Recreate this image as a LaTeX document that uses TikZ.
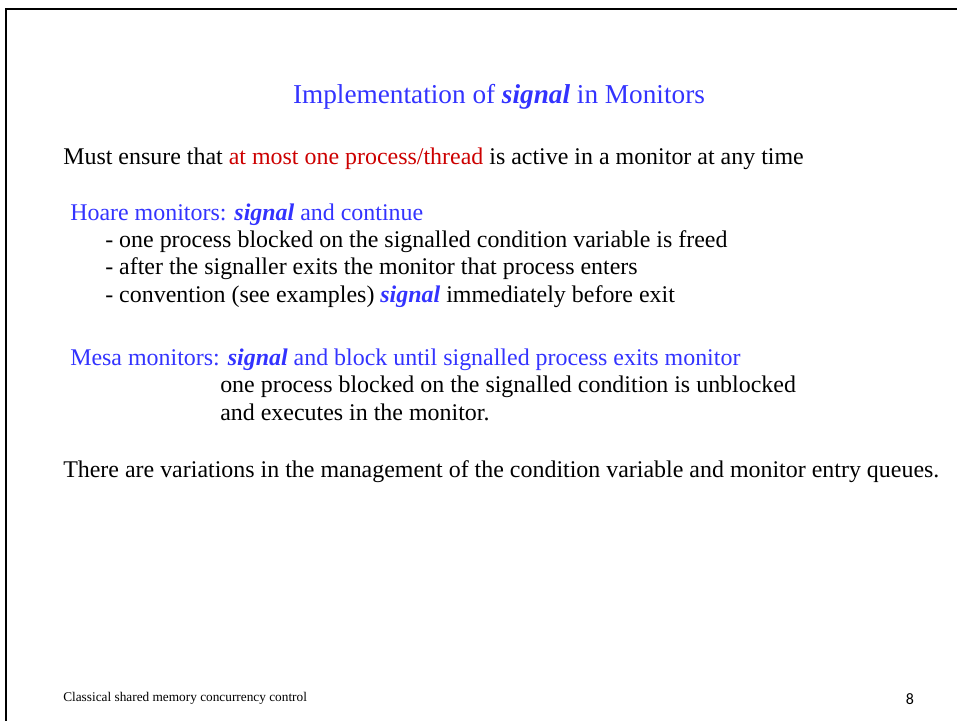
\documentclass[tikz,border=0pt]{standalone}
\usepackage{fontspec}
\setmainfont{Liberation Serif}
\newfontfamily\pagefont{Carlito}
\usepackage{tikz}
\definecolor{slideblue}{RGB}{51,51,255}
\definecolor{slidered}{RGB}{204,0,0}
\newcommand{\sig}{\textbf{\textit{signal}}}
\tikzstyle{line}=[anchor=base west,inner sep=0pt,font=\fontsize{18}{21}\selectfont]
\tikzstyle{head}=[line,text=slideblue]
\tikzstyle{foot}=[anchor=base west,inner sep=0pt,font=\fontsize{10}{12}\selectfont]
\tikzstyle{frame}=[draw,line width=1.5pt]

\begin{document}
\begin{tikzpicture}[x=0.752pt,y=-0.752pt]
    \useasboundingbox (0,0) rectangle (957,720);
    \draw[frame] (6,721) -- (6,9) -- (958,9);
    % title
    \node[head,anchor=base,font=\fontsize{20.5}{24}\selectfont] (title) at (499,103)
      {Implementation of \sig{} in Monitors};
    \node[line] (rule) at (63,164)
      {Must ensure that \textcolor{slidered}{at most one process/thread} is active in a monitor at any time};
    % hoare
    \node[head] (hoare) at (70,220) {Hoare monitors: \sig{} and continue};
    \node[line] (h1) at (105,247) {- one process blocked on the signalled condition variable is freed};
    \node[line] (h2) at (105,274) {- after the signaller exits the monitor that process enters};
    \node[line] (h3) at (105,302) {- convention (see examples) \textcolor{slideblue}{\sig} immediately before exit};
    % mesa
    \node[head] (mesa) at (70,365) {Mesa monitors: \sig{} and block until signalled process exits monitor};
    \node[line] (m1) at (220,392) {one process blocked on the signalled condition is unblocked};
    \node[line] (m2) at (220,420) {and executes in the monitor.};
    \node[line] (var) at (63,477)
      {There are variations in the management of the condition variable and monitor entry queues.};
    % footer
    \node[foot] (course) at (63,701) {Classical shared memory concurrency control};
    \node[foot,anchor=base,font=\pagefont\fontsize{12}{14}\selectfont] (page) at (910,704) {8};
\end{tikzpicture}
\end{document}
